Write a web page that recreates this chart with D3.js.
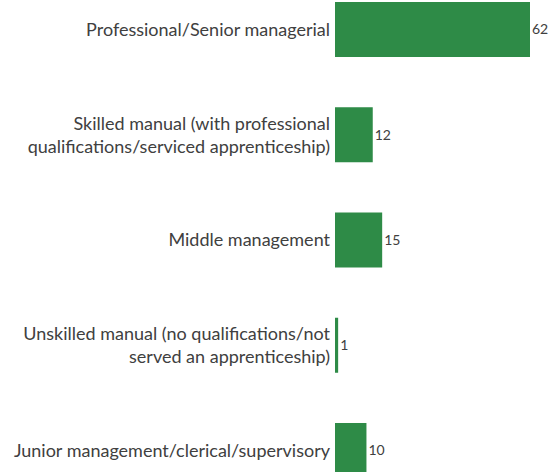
<!DOCTYPE html>
<html>
<head>
<meta charset="utf-8">
<script src="https://cdn.jsdelivr.net/npm/d3@7"></script>
<style>
  body { margin: 0; background: #fff; }
  svg { display: block; }
</style>
</head>
<body>
<svg id="chart" width="558" height="472"></svg>
<script>
    // categories top to bottom, each label split into its lines
    var categories = [
        ["Professional/Senior managerial"],
        ["Skilled manual (with professional", "qualifications/serviced apprenticeship)"],
        ["Middle management"],
        ["Unskilled manual (no qualifications/not", "served an apprenticeship)"],
        ["Junior management/clerical/supervisory"]
    ];
    var values = [62, 12, 15, 1, 10];

    var svg = d3.select("#chart");
    var keys = categories.map(function(c, i) { return i; });

    var x = d3.scaleLinear()
        .domain([0, 62])
        .range([335, 530]);

    var y = d3.scaleBand()
        .domain(keys)
        .range([2, 478])
        .paddingInner(0.4774)
        .paddingOuter(0);

    // bars
    svg.selectAll("rect.bar")
        .data(values)
      .enter().append("rect")
        .attr("class", "bar")
        .attr("x", x(0))
        .attr("y", function(d, i) { return y(i); })
        .attr("width", function(d) { return x(d) - x(0); })
        .attr("height", y.bandwidth())
        .attr("fill", "#2e8b47");

    // value labels
    svg.selectAll("text.val")
        .data(values)
      .enter().append("text")
        .attr("class", "val")
        .attr("x", function(d) { return x(d) + 2; })
        .attr("y", function(d, i) { return y(i) + y.bandwidth() / 2; })
        .attr("dy", "0.35em")
        .attr("font-family", "Lato, sans-serif")
        .attr("font-size", 14)
        .attr("fill", "#404040")
        .text(function(d) { return d; });

    // category labels
    var lineH = 23;
    var labels = svg.selectAll("text.cat")
        .data(categories)
      .enter().append("text")
        .attr("class", "cat")
        .attr("text-anchor", "end")
        .attr("font-family", "Lato, sans-serif")
        .attr("font-size", 18)
        .attr("fill", "#404040");

    labels.each(function(lines, i) {
        var cy = y(i) + y.bandwidth() / 2;
        var t = d3.select(this);
        lines.forEach(function(l, j) {
            t.append("tspan")
                .attr("x", x(0) - 5)
                .attr("y", cy + (j - (lines.length - 1) / 2) * lineH)
                .attr("dy", "0.35em")
                .text(l);
        });
    });
</script>
</body>
</html>
